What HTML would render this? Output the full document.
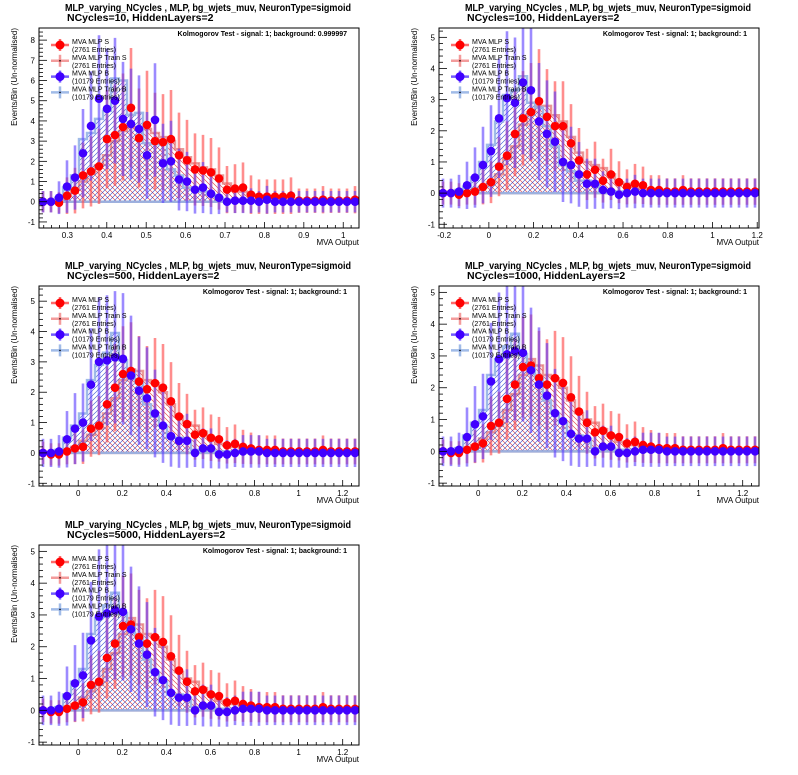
<!DOCTYPE html>
<html><head><meta charset="utf-8"><style>
body{margin:0;background:#fff}
svg{display:block;font-family:"Liberation Sans",Arial,sans-serif}
</style></head><body>
<svg id="c" width="798" height="775" viewBox="0 0 798 775">
<defs>
<pattern id="hs" patternUnits="userSpaceOnUse" width="5" height="5"><path d="M0,0 L5,5 M-1,4 L1,6 M4,-1 L6,1" stroke="#e03030" stroke-width="0.6"/></pattern>
<pattern id="hb" patternUnits="userSpaceOnUse" width="5" height="5"><path d="M0,5 L5,0 M-1,1 L1,-1 M4,6 L6,4" stroke="#3050d0" stroke-width="0.6"/></pattern>
</defs>
</svg>
<script>
// ---- data (bin contents, 40 bins per panel) ----
const titles2 = ["NCycles=10, HiddenLayers=2","NCycles=100, HiddenLayers=2","NCycles=500, HiddenLayers=2","NCycles=1000, HiddenLayers=2","NCycles=5000, HiddenLayers=2"];
const ksLabels = ["Kolmogorov Test - signal: 1; background: 0.999997","Kolmogorov Test - signal: 1; background: 1","Kolmogorov Test - signal: 1; background: 1","Kolmogorov Test - signal: 1; background: 1","Kolmogorov Test - signal: 1; background: 1"];
const xRanges = [[0.228,1.04],[-0.223,1.208],[-0.178,1.274],[-0.178,1.274],[-0.178,1.274]];
const yRanges = [[-1.3,8.6],[-1.12,5.3],[-1.09,5.5],[-1.09,5.2],[-1.09,5.2]];
const xTickLabels = [[0.3,0.4,0.5,0.6,0.7,0.8,0.9,1],[-0.2,0,0.2,0.4,0.6,0.8,1,1.2],[0,0.2,0.4,0.6,0.8,1,1.2],[0,0.2,0.4,0.6,0.8,1,1.2],[0,0.2,0.4,0.6,0.8,1,1.2]];
const yTickLabels = [[-1,0,1,2,3,4,5,6,7,8],[-1,0,1,2,3,4,5],[-1,0,1,2,3,4,5],[-1,0,1,2,3,4,5],[-1,0,1,2,3,4,5]];
const errScale = [[1.35,1.37],[0.95,1.2],[0.95,1.2],[0.95,1.2],[0.95,1.2]];

const sigTest1 = [0,0,-0.05,0.3,0.55,1.3,1.5,1.75,3.1,3.3,3.7,4.65,3.15,3.8,3.0,2.95,3.1,2.3,2.05,1.6,1.55,1.45,1.15,0.6,0.65,0.7,0.35,0.25,0.25,0.25,0.25,0.3,0.05,0.05,0.05,0.1,0.05,0.05,0.05,0.1];
const bkgTest1 = [0,0,0.2,0.75,1.2,2.4,3.75,5.1,4.6,5.0,4.1,3.85,3.6,2.3,4.05,1.9,2.0,1.1,1.0,0.6,0.7,0.4,0.2,0,0.05,0.05,0.05,0,0.1,0,0,0,0,0,0,0,0,0,0,0];
const sigTrain1 = [0,0,0.1,0.3,0.6,1.0,1.4,1.8,2.3,3.0,3.5,3.7,3.6,3.6,3.4,3.2,3.0,2.6,2.2,1.9,1.7,1.6,1.3,0.9,0.7,0.5,0.35,0.3,0.25,0.2,0.15,0.1,0.1,0.08,0.05,0.05,0.05,0.05,0.05,0.05];
const bkgTrain1 = [0,0,0.2,0.7,1.3,3.1,3.4,4.1,4.5,6.1,6.0,4.3,4.4,2.9,2.85,2.85,1.6,1.3,0.7,0.6,0.5,0.35,0.2,0.1,0.05,0.05,0.05,0.05,0.05,0,0,0,0,0,0,0,0,0,0,0];

const sigTest2 = [0,0,-0.05,0,0.05,0.2,0.35,0.85,1.2,1.9,2.4,2.6,2.95,2.45,2.15,2.15,1.6,1.05,0.6,0.75,0.4,0.6,0.35,0.2,0.3,0.25,0.1,0.1,0.05,0.05,0.1,0.05,0.05,0.05,0.05,0.05,0.05,0.05,0.05,0.05];
const bkgTest2 = [0,0,0.05,0.25,0.5,0.9,1.35,2.4,3.05,2.9,3.55,3.3,2.3,1.9,1.65,1.0,0.9,0.6,0.3,0.3,0.1,0.05,-0.05,0,0.05,0,0,0,0,0,0,0,0,0,0,0,0,0,0,0];
const sigTrain2 = [0,0,0,0.05,0.1,0.2,0.35,0.6,1.1,1.5,2.2,2.6,2.8,2.8,2.5,2.3,1.8,1.3,1.0,0.9,0.8,0.6,0.35,0.3,0.2,0.15,0.1,0.1,0.05,0.05,0.05,0.05,0.05,0.05,0.05,0.05,0.05,0.05,0.05,0.05];
const bkgTrain2 = [0,0,0.1,0.2,0.5,1.0,1.55,2.3,3.15,3.3,3.75,2.9,2.75,2.15,1.5,0.9,0.7,0.4,0.4,0.3,0.1,0.05,0.05,0.05,0,0,0,0,0,0,0,0,0,0,0,0,0,0,0,0];

const sigTest3 = [0,-0.05,-0.05,0.05,0.15,0.2,0.8,0.9,1.6,2.15,2.6,2.7,2.35,2.1,2.3,2.15,1.7,1.2,0.95,0.6,0.65,0.5,0.45,0.25,0.3,0.2,0.15,0.1,0.1,0.1,0.05,0.05,0.05,0.05,0.05,0.1,0.05,0.05,0.05,0.05];
const bkgTest3 = [0,0,0.05,0.45,0.8,1.0,2.25,3.0,3.05,3.15,3.1,2.55,2.05,1.8,1.3,0.9,0.55,0.4,0.4,0,0.15,0.15,-0.05,-0.05,0,0.05,0.05,0.05,0,0,0,0,0,0,0,0,0,0,0,0];
const sigTrain3 = [0,0,0,0.05,0.2,0.4,0.6,0.8,1.3,1.8,2.4,2.75,2.7,2.4,2.3,2.0,1.6,1.2,1.0,0.9,0.7,0.5,0.3,0.25,0.2,0.15,0.1,0.1,0.05,0.05,0.05,0.05,0.05,0.05,0.05,0.05,0.05,0.05,0.05,0.05];
const bkgTrain3 = [0,0,0.1,0.5,0.9,1.3,2.4,2.9,3.3,3.95,3.05,2.7,2.3,1.6,1.2,0.9,0.5,0.5,0.4,0.1,0.1,0.1,0.05,0.05,0.05,0,0,0,0,0,0,0,0,0,0,0,0,0,0,0];

const sigTest4 = [0,-0.05,-0.05,0.05,0.15,0.25,0.8,0.9,1.65,2.1,2.65,2.7,2.3,2.1,2.3,2.15,1.7,1.25,0.9,0.6,0.65,0.5,0.45,0.25,0.3,0.2,0.15,0.1,0.1,0.1,0.05,0.05,0.05,0.05,0.05,0.1,0.05,0.05,0.05,0.05];
const bkgTest4 = [0,0,0.05,0.45,0.85,1.1,2.2,2.9,3.05,3.15,3.1,2.55,2.1,1.75,1.2,0.95,0.55,0.4,0.4,0,0.15,0.15,-0.05,-0.05,0,0.05,0.05,0.05,0,0,0,0,0,0,0,0,0,0,0,0];
const sigTrain4 = [0,0,0,0.05,0.2,0.4,0.6,0.8,1.3,1.8,2.4,2.9,2.7,2.4,2.3,2.0,1.6,1.2,1.0,0.9,0.7,0.5,0.3,0.25,0.2,0.15,0.1,0.1,0.05,0.05,0.05,0.05,0.05,0.05,0.05,0.05,0.05,0.05,0.05,0.05];
const bkgTrain4 = [0,0,0.1,0.5,0.9,1.3,2.4,2.9,3.3,3.7,3.05,2.7,2.3,1.6,1.2,0.9,0.5,0.5,0.4,0.1,0.1,0.1,0.05,0.05,0.05,0,0,0,0,0,0,0,0,0,0,0,0,0,0,0];

const sigTest5 = [0,-0.05,-0.05,0.05,0.15,0.25,0.8,0.9,1.65,2.1,2.65,2.7,2.3,2.1,2.3,2.15,1.7,1.25,0.9,0.6,0.65,0.5,0.45,0.25,0.3,0.2,0.15,0.1,0.1,0.1,0.05,0.05,0.05,0.05,0.05,0.1,0.05,0.05,0.05,0.05];
const bkgTest5 = [0,0,0.05,0.45,0.85,1.1,2.2,2.95,3.05,3.15,3.1,2.55,2.1,1.75,1.2,0.95,0.55,0.4,0.4,0,0.15,0.15,-0.05,-0.05,0,0.05,0.05,0.05,0,0,0,0,0,0,0,0,0,0,0,0];
const sigTrain5 = [0,0,0,0.05,0.2,0.4,0.6,0.8,1.3,1.8,2.4,2.9,2.7,2.4,2.3,2.0,1.6,1.2,1.0,0.9,0.7,0.5,0.3,0.25,0.2,0.15,0.1,0.1,0.05,0.05,0.05,0.05,0.05,0.05,0.05,0.05,0.05,0.05,0.05,0.05];
const bkgTrain5 = [0,0,0.1,0.5,0.9,1.3,2.4,2.9,3.3,3.7,3.05,2.7,2.3,1.6,1.2,0.9,0.5,0.5,0.4,0.1,0.1,0.1,0.05,0.05,0.05,0,0,0,0,0,0,0,0,0,0,0,0,0,0,0];

const sigTests = [sigTest1,sigTest2,sigTest3,sigTest4,sigTest5];
const bkgTests = [bkgTest1,bkgTest2,bkgTest3,bkgTest4,bkgTest5];
const sigTrains = [sigTrain1,sigTrain2,sigTrain3,sigTrain4,sigTrain5];
const bkgTrains = [bkgTrain1,bkgTrain2,bkgTrain3,bkgTrain4,bkgTrain5];

// ---- layout ----
const origins = [[0,0],[400,0],[0,258],[400,258],[0,517]];
const FL=39, FR=359, FT=28, FB=228;
const NS="http://www.w3.org/2000/svg";
const svg=document.getElementById('c');
function mk(tag,attrs,parent){const e=document.createElementNS(NS,tag);for(const k in attrs)e.setAttribute(k,attrs[k]);parent.appendChild(e);return e;}

origins.forEach((o,p)=>{
  const g=mk('g',{transform:`translate(${o[0]},${o[1]})`},svg);
  
  
  const [x0,x1]=xRanges[p],[y0,y1]=yRanges[p];
  const X=v=>FL+(v-x0)/(x1-x0)*(FR-FL);
  const Y=v=>FB-(v-y0)/(y1-y0)*(FB-FT);
  const nb=sigTests[p].length, bw=(x1-x0)/nb;
  // titles
  let t=mk('text',{x:65,y:11,'font-size':10.5,'font-weight':'bold',textLength:286,lengthAdjust:'spacingAndGlyphs'},g);t.textContent='MLP_varying_NCycles ,  MLP, bg_wjets_muv, NeuronType=sigmoid';
  
  t=mk('text',{x:67,y:21,'font-size':10.5,'font-weight':'bold'},g);t.textContent=titles2[p];
  
  const clip='clip'+p;
  const cp=mk('clipPath',{id:clip},g);mk('rect',{x:FL,y:FT,width:FR-FL,height:FB-FT},cp);
  const pg=mk('g',{'clip-path':`url(#${clip})`},g);
  // train histograms
  [[sigTrains[p],'url(#hs)','rgba(225,110,110,0.7)','train-signal-hist'],[bkgTrains[p],'url(#hb)','rgba(150,180,230,0.9)','train-background-hist']].forEach(([arr,fill,st,nm])=>{
    let d=`M${X(x0)},${Y(0)}`;
    arr.forEach((v,i)=>{d+=` L${X(x0+i*bw)},${Y(v)} L${X(x0+(i+1)*bw)},${Y(v)}`;});
    d+=` L${X(x1)},${Y(0)} Z`;
    const e=mk('path',{d,fill,stroke:st,'stroke-width':2.5},pg);
    
  });
  // error bars + points
  [[sigTests[p],errScale[p][0],'rgba(255,80,80,0.65)','signal'],[bkgTests[p],errScale[p][1],'rgba(90,60,255,0.6)','background']].forEach(([arr,k,ec,nm])=>{
    arr.forEach((v,i)=>{
      const cx=X(x0+(i+0.5)*bw), er=k*Math.sqrt(Math.max(v,0)+0.15);
      const l=mk('line',{x1:cx,x2:cx,y1:Y(v-er),y2:Y(v+er),stroke:ec,'stroke-width':2.6},pg);
      
    });
  });
  [[sigTests[p],'#ff0000','signal-point'],[bkgTests[p],'#4000ff','background-point']].forEach(([arr,mc,nm])=>{
    arr.forEach((v,i)=>{
      const c=mk('circle',{cx:X(x0+(i+0.5)*bw),cy:Y(v),r:4.3,fill:mc},pg);
      
    });
  });
  // frame
  const fr=mk('rect',{x:FL,y:FT,width:FR-FL,height:FB-FT,fill:'none',stroke:'#000','stroke-width':1},g);
  
  // x ticks
  const xt=xTickLabels[p], step=xt[1]-xt[0];
  for(let v=xt[0]-step;v<=x1+1e-9;v+=step/5){ if(v<x0)continue;
    const major=Math.abs(Math.round((v-xt[0])/step)*step-(v-xt[0]))<1e-6;
    mk('line',{x1:X(v),x2:X(v),y1:FB,y2:FB-(major?6:3),stroke:'#000','stroke-width':0.8},g);}
  xt.forEach(v=>{const e=mk('text',{x:X(v),y:FB+10,'font-size':8,'text-anchor':'middle'},g);e.textContent=String(v);
    });
  // y ticks
  const yt=yTickLabels[p];
  for(let v=yt[0];v<=y1+1e-9;v+=0.2){ if(v<y0)continue;
    const major=Math.abs(v-Math.round(v))<1e-6;
    mk('line',{x1:FL,x2:FL+(major?8:4),y1:Y(v),y2:Y(v),stroke:'#000','stroke-width':0.8},g);}
  yt.forEach(v=>{const e=mk('text',{x:FL-4,y:Y(v)+3,'font-size':8,'text-anchor':'end'},g);e.textContent=String(v);
    });
  // axis titles
  t=mk('text',{x:FR,y:FB+17,'font-size':8,'text-anchor':'end'},g);t.textContent='MVA Output';
  
  t=mk('text',{x:0,y:0,'font-size':8,'text-anchor':'end',transform:`translate(17,${FT}) rotate(-90)`},g);t.textContent='Events/Bin (Un-normalised)';
  
  // KS label
  t=mk('text',{x:347,y:36,'font-size':7,'font-weight':'bold','text-anchor':'end'},g);t.textContent=ksLabels[p];
  
  // legend
  const lg=mk('g',{},g);
  const ents=[['MVA MLP S','(2761 Entries)','#ff0000','rgba(255,70,70,0.8)',true],['MVA MLP Train S','(2761 Entries)','#000','rgba(240,130,130,0.8)',false],['MVA MLP B','(10179 Entries)','#4000ff','rgba(80,50,255,0.8)',true],['MVA MLP Train B','(10179 Entries)','#000','rgba(150,180,230,0.9)',false]];
  ents.forEach((en,i)=>{
    const ey=45+i*15.8;
    const eg=mk('g',{},lg);
    mk('line',{x1:51,x2:69,y1:ey,y2:ey,stroke:en[3],'stroke-width':2.5},eg);
    mk('line',{x1:60,x2:60,y1:ey-6,y2:ey+6,stroke:en[3],'stroke-width':2.5},eg);
    if(en[4])mk('circle',{cx:60,cy:ey,r:4.5,fill:en[2]},eg);else mk('circle',{cx:60,cy:ey,r:0.8,fill:'#000'},eg);
    let a=mk('text',{x:72,y:ey-1,'font-size':7},eg);a.textContent=en[0];
    a=mk('text',{x:72,y:ey+7,'font-size':7},eg);a.textContent=en[1];
  });
});
</script>
</body></html>
